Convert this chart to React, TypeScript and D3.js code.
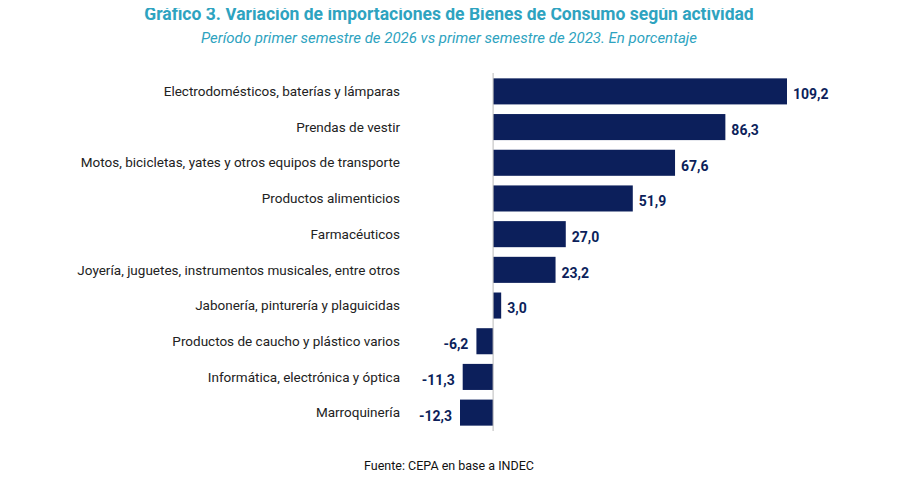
import * as d3 from "d3";

const categories = [
  "Electrodomésticos, baterías y lámparas",
  "Prendas de vestir",
  "Motos, bicicletas, yates y otros equipos de transporte",
  "Productos alimenticios",
  "Farmacéuticos",
  "Joyería, juguetes, instrumentos musicales, entre otros",
  "Jabonería, pinturería y plaguicidas",
  "Productos de caucho y plástico varios",
  "Informática, electrónica y óptica",
  "Marroquinería",
];
const values = [109.2, 86.3, 67.6, 51.9, 27.0, 23.2, 3.0, -6.2, -11.3, -12.3];

const W = 898;
const H = 479;
const navy = "#0c1f5b";
const teal = "#2ea3c0";

export default function App() {
  const x = d3.scaleLinear().domain([-12.3, 109.2]).range([460, 787]);
  const y = d3.scaleBand().domain(categories).range([73, 431]).paddingInner(0.27).paddingOuter(0.15);
  const fmt = (v: number) => v.toFixed(1).replace(".", ",");
  return (
    <svg width={W} height={H} style={{ display: "block", margin: -8, fontFamily: "Roboto, sans-serif" }}>
      <rect width={W} height={H} fill="#fff" />
      <text x={449} y={20} textAnchor="middle" fontSize={17.5} fontWeight="bold" fill={teal}>
        Gráfico 3. Variación de importaciones de Bienes de Consumo según actividad
      </text>
      <text x={449} y={43} textAnchor="middle" fontSize={15} fontStyle="italic" fill={teal}>
        Período primer semestre de 2026 vs primer semestre de 2023. En porcentaje
      </text>
      {categories.map((c, i) => {
        const v = values[i];
        const y0 = y(c)!;
        const bw = y.bandwidth();
        const xa = x(Math.min(0, v));
        const xb = x(Math.max(0, v));
        return (
          <g key={c}>
            <rect x={xa} y={y0} width={xb - xa} height={bw} fill={navy} />
            <text x={400} y={y0 + bw / 2} dy="0.35em" textAnchor="end" fontSize={13.5} fill="#222">
              {c}
            </text>
            <text
              x={v >= 0 ? xb + 6 : xa - 8}
              y={y0 + bw / 2 + 3}
              dy="0.35em"
              textAnchor={v >= 0 ? "start" : "end"}
              fontSize={14}
              fontWeight="bold"
              fill={navy}
            >
              {fmt(v)}
            </text>
          </g>
        );
      })}
      <line x1={x(0)} x2={x(0)} y1={73} y2={431} stroke="#bbb" strokeWidth={1} />
      <text x={449} y={470} textAnchor="middle" fontSize={12.5} fill="#111">
        Fuente: CEPA en base a INDEC
      </text>
    </svg>
  );
}
